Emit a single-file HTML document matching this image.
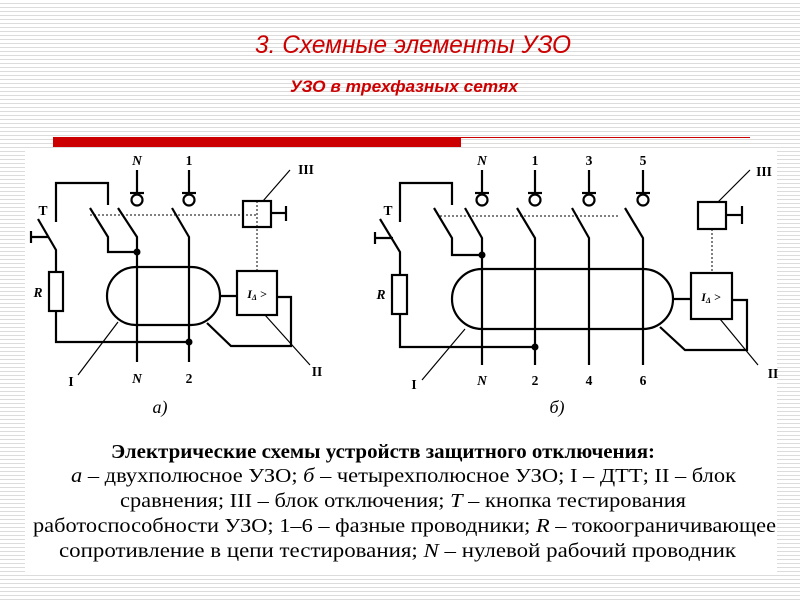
<!DOCTYPE html>
<html><head><meta charset="utf-8"><style>
html,body{margin:0;padding:0;}
body{width:800px;height:600px;overflow:hidden;background:#fff repeating-linear-gradient(to bottom,#fff 0px,#fff 3px,#dcdcdc 3px,#dcdcdc 4px);}
svg{display:block;}
</style></head><body>
<svg width="800" height="600" viewBox="0 0 800 600" xmlns="http://www.w3.org/2000/svg">
<text x="413" y="53" text-anchor="middle" font-family="'Liberation Sans Narrow','Liberation Sans',sans-serif" font-style="italic" font-size="25" fill="#cc0000" textLength="316" lengthAdjust="spacingAndGlyphs">3. Схемные элементы УЗО</text>
<text x="404" y="92" text-anchor="middle" font-family="'Liberation Sans Narrow','Liberation Sans',sans-serif" font-style="italic" font-weight="bold" font-size="17" fill="#cc0000" textLength="228" lengthAdjust="spacingAndGlyphs">УЗО в трехфазных сетях</text>
<rect x="53" y="137" width="408" height="10" fill="#cc0000"/>
<line x1="461" y1="137.5" x2="750" y2="137.5" stroke="#cc0000" stroke-width="1"/>
<rect x="25" y="150" width="752" height="422" fill="#fff"/>
<g stroke="#000" stroke-width="2.2" fill="none">
<line x1="137" y1="170" x2="137" y2="193"/><line x1="130" y1="193" x2="144" y2="193"/><circle cx="137" cy="200" r="5.5"/>
<line x1="189" y1="170" x2="189" y2="193"/><line x1="182" y1="193" x2="196" y2="193"/><circle cx="189" cy="200" r="5.5"/>
<polyline points="118,208 137,237 137,362"/>
<polyline points="90,208 108,237 108,252 137,252"/>
<polyline points="172,208 189,237 189,362"/>
<polyline points="56,222 56,183 108,183 108,205"/>
<polyline points="38,219 56,250 56,272"/>
<line x1="31" y1="237" x2="48" y2="237"/><line x1="31" y1="231" x2="31" y2="243"/>
<rect x="49" y="272" width="14" height="39"/>
<polyline points="56,311 56,342 189,342"/>
<path d="M136,267 H191 A29,29 0 0 1 191,325 H136 A29,29 0 0 1 136,267 Z"/>
<line x1="220" y1="296" x2="237" y2="296"/>
<rect x="237" y="271" width="40" height="44"/>
<polyline points="277,297 291,297 291,346 231,346 207,323"/>
<rect x="243" y="201" width="28" height="26"/>
<line x1="271" y1="213" x2="286" y2="213"/><line x1="286" y1="206" x2="286" y2="221"/>
<line x1="482" y1="170" x2="482" y2="193"/><line x1="475" y1="193" x2="489" y2="193"/><circle cx="482" cy="200" r="5.5"/>
<line x1="535" y1="170" x2="535" y2="193"/><line x1="528" y1="193" x2="542" y2="193"/><circle cx="535" cy="200" r="5.5"/>
<line x1="589" y1="170" x2="589" y2="193"/><line x1="582" y1="193" x2="596" y2="193"/><circle cx="589" cy="200" r="5.5"/>
<line x1="643" y1="170" x2="643" y2="193"/><line x1="636" y1="193" x2="650" y2="193"/><circle cx="643" cy="200" r="5.5"/>
<polyline points="465,208 482,238 482,365"/>
<polyline points="517,208 535,238 535,365"/>
<polyline points="572,208 589,238 589,365"/>
<polyline points="625,208 643,238 643,365"/>
<polyline points="434,208 452,238 452,255 482,255"/>
<polyline points="400,222 400,183 452,183 452,205"/>
<polyline points="380,219 400,252 400,275"/>
<line x1="375" y1="238" x2="393" y2="238"/><line x1="375" y1="232" x2="375" y2="244"/>
<rect x="392" y="275" width="15" height="39"/>
<polyline points="400,314 400,347 535,347"/>
<path d="M482,269 H643 A30,30 0 0 1 643,329 H482 A30,30 0 0 1 482,269 Z"/>
<line x1="673" y1="299" x2="691" y2="299"/>
<rect x="691" y="273" width="41" height="46"/>
<polyline points="732,300 747,300 747,350 685,350 660,327"/>
<rect x="698" y="202" width="28" height="27"/>
<line x1="726" y1="215" x2="742" y2="215"/><line x1="742" y1="206" x2="742" y2="224"/>
</g>
<g fill="#000">
<circle cx="137" cy="252" r="3.5"/><circle cx="189" cy="342" r="3.5"/>
<circle cx="482" cy="255" r="3.5"/><circle cx="535" cy="347" r="3.5"/>
</g>
<g stroke="#000" stroke-width="1" fill="none" stroke-dasharray="2,2">
<line x1="90" y1="215" x2="257" y2="215"/><line x1="257" y1="201" x2="257" y2="271"/>
<line x1="440" y1="216" x2="620" y2="216"/><line x1="712" y1="229" x2="712" y2="273"/>
</g>
<g stroke="#000" stroke-width="1.2">
<line x1="263" y1="201" x2="290" y2="170"/><line x1="265" y1="315" x2="310" y2="365"/><line x1="118" y1="322" x2="78" y2="375"/>
<line x1="718" y1="202" x2="750" y2="170"/><line x1="720" y1="319" x2="758" y2="365"/><line x1="465" y1="329" x2="422" y2="380"/>
</g>
<g font-family="'Liberation Serif',serif" font-weight="bold" font-size="13.5" fill="#000" text-anchor="middle">
<text x="137" y="165" font-style="italic">N</text><text x="189" y="165">1</text>
<text x="306" y="174">III</text><text x="43" y="215">T</text>
<text x="38" y="297" font-style="italic">R</text>
<text x="137" y="383" font-style="italic">N</text><text x="189" y="383">2</text>
<text x="317" y="376">II</text><text x="71" y="386">I</text>
<text x="482" y="165" font-style="italic">N</text><text x="535" y="165">1</text><text x="589" y="165">3</text><text x="643" y="165">5</text>
<text x="764" y="176">III</text><text x="388" y="215">T</text>
<text x="381" y="299" font-style="italic">R</text>
<text x="482" y="385" font-style="italic">N</text><text x="535" y="385">2</text><text x="589" y="385">4</text><text x="643" y="385">6</text>
<text x="773" y="378">II</text><text x="414" y="389">I</text>
<text x="257" y="298" font-style="italic" font-size="12">I<tspan font-size="8" dy="2">Δ</tspan><tspan dy="-2"> &gt;</tspan></text>
<text x="711" y="301" font-style="italic" font-size="12">I<tspan font-size="8" dy="2">Δ</tspan><tspan dy="-2"> &gt;</tspan></text>
</g>
<g font-family="'Liberation Serif',serif" font-style="italic" font-size="18" fill="#000" text-anchor="middle">
<text x="160" y="413">а)</text><text x="557" y="413">б)</text>
</g>
<g font-family="'Liberation Serif',serif" font-size="20" fill="#000">
<text x="111" y="458" font-weight="bold" textLength="544" lengthAdjust="spacingAndGlyphs">Электрические схемы устройств защитного отключения:</text>
<text x="71" y="482" textLength="665" lengthAdjust="spacingAndGlyphs"><tspan font-style="italic">а</tspan> – двухполюсное  УЗО; <tspan font-style="italic">б</tspan> – четырехполюсное УЗО; I – ДТТ; II – блок</text>
<text x="120" y="507" textLength="566" lengthAdjust="spacingAndGlyphs">сравнения; III – блок отключения; <tspan font-style="italic">Т</tspan> – кнопка тестирования</text>
<text x="33" y="532" textLength="743" lengthAdjust="spacingAndGlyphs">работоспособности  УЗО; 1–6 – фазные проводники; <tspan font-style="italic">R</tspan> – токоограничивающее</text>
<text x="59" y="557" textLength="677" lengthAdjust="spacingAndGlyphs">сопротивление в цепи тестирования; <tspan font-style="italic">N</tspan> – нулевой рабочий проводник</text>
</g>
</svg>
</body></html>
